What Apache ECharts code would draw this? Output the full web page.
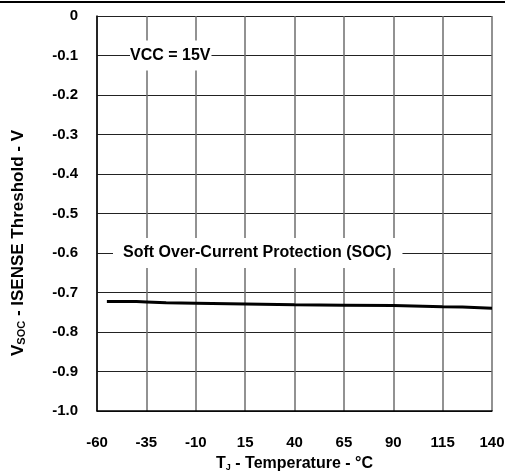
<!DOCTYPE html>
<html>
<head>
<meta charset="utf-8">
<script src="https://cdn.jsdelivr.net/npm/echarts@6/dist/echarts.min.js"></script>
<style>
html,body{margin:0;padding:0;background:#fff;}
#chart{width:507px;height:472px;}
</style>
</head>
<body>
<div id="chart"></div>
<script>
// Data
const temperatures = [-55, -40, -35, -25, -10, 15, 40, 65, 90, 115, 125, 140];
const vsocThreshold = [-0.723, -0.723, -0.724, -0.726, -0.727, -0.729, -0.731, -0.732, -0.733, -0.736, -0.737, -0.740];
const xTicks = [-60, -35, -10, 15, 40, 65, 90, 115, 140];
const yTicks = [0, -0.1, -0.2, -0.3, -0.4, -0.5, -0.6, -0.7, -0.8, -0.9, -1.0];
const annotations = ['VCC = 15V', 'Soft Over-Current Protection (SOC)'];

const FONT = 'Liberation Sans, Arial, sans-serif';
const chart = echarts.init(document.getElementById('chart'), null, {renderer: 'canvas'});

const seriesData = temperatures.map((t, i) => [t, vsocThreshold[i]]);

chart.setOption({
  animation: false,
  backgroundColor: '#fff',
  grid: {left: 97, right: 15, top: 16, bottom: 61, containLabel: false, outerBoundsMode: 'none'},
  xAxis: {
    type: 'value',
    min: xTicks[0],
    max: xTicks[xTicks.length - 1],
    interval: 25,
    axisLine: {show: true, onZero: false, lineStyle: {color: '#000', width: 1.5}},
    axisTick: {show: false},
    splitLine: {show: true, lineStyle: {color: '#6e6e6e', width: 1.5}},
    axisLabel: {
      margin: 24, color: '#000', fontFamily: FONT, fontWeight: 'bold', fontSize: 15,
      formatter: v => String(v)
    },
    name: '{a|T}{s|J}{a| - Temperature - °C}',
    nameLocation: 'middle',
    nameGap: 44,
    nameTextStyle: {
      rich: {
        a: {fontFamily: FONT, fontWeight: 'bold', fontSize: 16, color: '#000'},
        s: {fontFamily: FONT, fontWeight: 'bold', fontSize: 9, color: '#000', verticalAlign: 'bottom', padding: [8, 0, 0, 0]}
      }
    }
  },
  yAxis: {
    type: 'value',
    min: yTicks[yTicks.length - 1],
    max: yTicks[0],
    interval: 0.1,
    axisLine: {show: true, onZero: false, lineStyle: {color: '#000', width: 1.5}},
    axisTick: {show: false},
    splitLine: {show: true, lineStyle: {color: '#222', width: 1}},
    axisLabel: {
      margin: 19, color: '#000', fontFamily: FONT, fontWeight: 'bold', fontSize: 15,
      formatter: v => (Math.abs(v) < 1e-9 ? '0' : v.toFixed(1))
    }
  },
  series: [{
    type: 'line',
    data: seriesData,
    showSymbol: false,
    symbol: 'none',
    smooth: false,
    lineStyle: {color: '#000', width: 3},
    z: 5
  }],
  graphic: [
    {
      type: 'line', z: 10,
      shape: {x1: 0, y1: 2, x2: 505, y2: 2},
      style: {stroke: '#000', lineWidth: 2}
    },
    {
      type: 'text', z: 10,
      x: 130, y: 55.5,
      style: {
        text: annotations[0],
        fontFamily: FONT, fontWeight: 'bold', fontSize: 16, fill: '#000',
        backgroundColor: '#fff', padding: [7, 1, 7, 0],
        verticalAlign: 'middle', align: 'left'
      }
    },
    {
      type: 'text', z: 10,
      x: 113, y: 253,
      style: {
        text: annotations[1],
        fontFamily: FONT, fontWeight: 'bold', fontSize: 16, fill: '#000',
        backgroundColor: '#fff', padding: [7, 11, 7, 10],
        verticalAlign: 'middle', align: 'left'
      }
    },
    {
      type: 'text', z: 10,
      x: 18, y: 243,
      rotation: Math.PI / 2,
      style: {
        text: '{a|V}{s|SOC}{a| - ISENSE Threshold - V}',
        align: 'center', verticalAlign: 'middle',
        rich: {
          a: {fontFamily: FONT, fontWeight: 'bold', fontSize: 17, fill: '#000', color: '#000'},
          s: {fontFamily: FONT, fontWeight: 'bold', fontSize: 11, fill: '#000', color: '#000', padding: [8, 0, 0, 0]}
        }
      }
    }
  ]
});
</script>
</body>
</html>
